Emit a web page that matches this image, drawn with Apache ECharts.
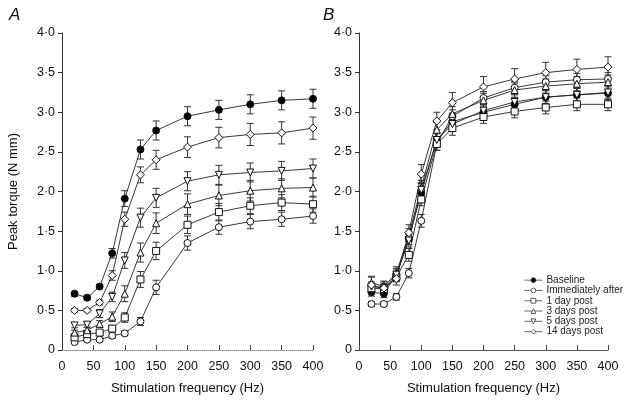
<!DOCTYPE html>
<html>
<head>
<meta charset="utf-8">
<script src="https://cdn.jsdelivr.net/npm/echarts@6/dist/echarts.min.js"></script>
<style>
html,body{margin:0;padding:0;background:#fff;}
#c{width:626px;height:400px;}
</style>
</head>
<body>
<div id="c"></div>
<script>
// Stimulation frequencies (Hz)
const freqs = [20, 40, 60, 80, 100, 125, 150, 200, 250, 300, 350, 400];
const seriesNames = ['Baseline', 'Immediately after', '1 day post', '3 days post', '5 days post', '14 days post'];
const yTicks = [0, 0.5, 1, 1.5, 2, 2.5, 3, 3.5, 4];

// Panel A: mean peak torque (N mm)
const aBaseline  = [0.71, 0.66, 0.80, 1.22, 1.91, 2.53, 2.77, 2.95, 3.03, 3.10, 3.15, 3.17];
const aImmediate = [0.10, 0.13, 0.13, 0.18, 0.21, 0.36, 0.79, 1.35, 1.55, 1.62, 1.65, 1.69];
const aDay1      = [0.16, 0.20, 0.22, 0.27, 0.41, 0.89, 1.25, 1.58, 1.74, 1.82, 1.86, 1.84];
const aDay3      = [0.22, 0.25, 0.33, 0.42, 0.71, 1.23, 1.60, 1.84, 1.95, 2.01, 2.04, 2.05];
const aDay5      = [0.31, 0.32, 0.46, 0.67, 1.13, 1.67, 1.92, 2.13, 2.21, 2.24, 2.26, 2.29];
const aDay14     = [0.50, 0.50, 0.60, 0.94, 1.65, 2.21, 2.40, 2.56, 2.68, 2.72, 2.74, 2.80];
// Panel A: error (SEM)
const aBaselineErr  = [0.03, 0.03, 0.03, 0.06, 0.10, 0.12, 0.12, 0.12, 0.12, 0.12, 0.12, 0.12];
const aImmediateErr = [0.02, 0.02, 0.02, 0.03, 0.03, 0.05, 0.09, 0.09, 0.09, 0.09, 0.09, 0.09];
const aDay1Err      = [0.03, 0.03, 0.03, 0.04, 0.06, 0.10, 0.11, 0.11, 0.11, 0.10, 0.10, 0.10];
const aDay3Err      = [0.03, 0.03, 0.04, 0.06, 0.10, 0.12, 0.13, 0.13, 0.13, 0.13, 0.12, 0.12];
const aDay5Err      = [0.03, 0.03, 0.05, 0.06, 0.10, 0.12, 0.12, 0.12, 0.12, 0.12, 0.12, 0.12];
const aDay14Err     = [0.02, 0.02, 0.03, 0.06, 0.09, 0.10, 0.12, 0.13, 0.13, 0.14, 0.14, 0.14];

// Panel B: mean peak torque (N mm)
const bBaseline  = [0.73, 0.71, 0.95, 1.41, 1.98, 2.65, 2.88, 3.00, 3.10, 3.19, 3.22, 3.24];
const bImmediate = [0.58, 0.58, 0.67, 0.97, 1.63, 2.60, 2.95, 3.18, 3.31, 3.38, 3.41, 3.42];
const bDay1      = [0.78, 0.77, 0.92, 1.20, 1.90, 2.60, 2.80, 2.94, 3.01, 3.06, 3.10, 3.10];
const bDay3      = [0.85, 0.80, 0.97, 1.45, 2.05, 2.78, 2.98, 3.15, 3.28, 3.33, 3.36, 3.38];
const bDay5      = [0.80, 0.78, 0.95, 1.38, 2.02, 2.65, 2.85, 3.02, 3.13, 3.19, 3.22, 3.25];
const bDay14     = [0.82, 0.78, 0.90, 1.48, 2.22, 2.89, 3.12, 3.32, 3.42, 3.50, 3.54, 3.57];
// Panel B: error (SEM)
const bBaselineErr  = [0.05, 0.05, 0.06, 0.08, 0.08, 0.08, 0.08, 0.08, 0.08, 0.08, 0.08, 0.08];
const bImmediateErr = [0.03, 0.03, 0.04, 0.06, 0.08, 0.08, 0.08, 0.08, 0.08, 0.08, 0.08, 0.08];
const bDay1Err      = [0.05, 0.05, 0.06, 0.08, 0.08, 0.08, 0.09, 0.08, 0.08, 0.08, 0.08, 0.08];
const bDay3Err      = [0.08, 0.07, 0.08, 0.08, 0.09, 0.09, 0.09, 0.09, 0.09, 0.09, 0.09, 0.09];
const bDay5Err      = [0.06, 0.06, 0.08, 0.08, 0.09, 0.09, 0.09, 0.09, 0.09, 0.09, 0.09, 0.09];
const bDay14Err     = [0.10, 0.08, 0.08, 0.10, 0.12, 0.11, 0.13, 0.13, 0.13, 0.13, 0.13, 0.13];

const panelA = [aBaseline, aImmediate, aDay1, aDay3, aDay5, aDay14];
const panelAErr = [aBaselineErr, aImmediateErr, aDay1Err, aDay3Err, aDay5Err, aDay14Err];
const panelB = [bBaseline, bImmediate, bDay1, bDay3, bDay5, bDay14];
const panelBErr = [bBaselineErr, bImmediateErr, bDay1Err, bDay3Err, bDay5Err, bDay14Err];

const symbols = [
  {symbol: 'circle', fill: '#000', size: 7, rot: 0},
  {symbol: 'circle', fill: '#fff', size: 7, rot: 0},
  {symbol: 'rect', fill: '#fff', size: 7, rot: 0},
  {symbol: 'triangle', fill: '#fff', size: 7, rot: 0},
  {symbol: 'triangle', fill: '#fff', size: 7, rot: 180},
  {symbol: 'diamond', fill: '#fff', size: 8, rot: 0}
];

const font = '"Liberation Sans", Arial, Helvetica, sans-serif';
const fmtY = v => v === 0 ? '0' : v.toFixed(1).replace('.', '\u00B7');

function errSeries(name, vals, errs, idx) {
  return {
    type: 'custom',
    name: name + ' (SEM)',
    xAxisIndex: idx, yAxisIndex: idx,
    silent: true,
    z: 1,
    data: freqs.map((f, i) => [f, vals[i] - errs[i], vals[i] + errs[i]]),
    renderItem: function (params, api) {
      const lo = api.coord([api.value(0), api.value(1)]);
      const hi = api.coord([api.value(0), api.value(2)]);
      const w = 3.5;
      const st = {stroke: '#333', lineWidth: 1, fill: null};
      return {
        type: 'group',
        children: [
          {type: 'line', shape: {x1: lo[0], y1: lo[1], x2: hi[0], y2: hi[1]}, style: st},
          {type: 'line', shape: {x1: lo[0] - w, y1: lo[1], x2: lo[0] + w, y2: lo[1]}, style: st},
          {type: 'line', shape: {x1: hi[0] - w, y1: hi[1], x2: hi[0] + w, y2: hi[1]}, style: st}
        ]
      };
    }
  };
}

function lineSeries(name, vals, idx, k) {
  const s = symbols[k];
  return {
    type: 'line',
    name: name,
    xAxisIndex: idx, yAxisIndex: idx,
    data: freqs.map((f, i) => [f, vals[i]]),
    symbol: s.symbol,
    symbolSize: s.size,
    symbolRotate: s.rot,
    showAllSymbol: true,
    z: 3,
    lineStyle: {color: '#222', width: 0.9},
    itemStyle: {color: s.fill, borderColor: '#111', borderWidth: 1},
    emphasis: {disabled: true},
    animation: false
  };
}

const series = [];
[panelA, panelB].forEach((panel, idx) => {
  const errs = idx === 0 ? panelAErr : panelBErr;
  panel.forEach((vals, k) => {
    series.push(lineSeries(seriesNames[k], vals, idx, k));
  });
  panel.forEach((vals, k) => {
    series.push(errSeries(seriesNames[k], vals, errs[k], idx));
  });
});

function xAxis(idx, dotted) {
  return {
    type: 'value', gridIndex: idx, min: 0, max: 400, interval: 50,
    name: 'Stimulation frequency (Hz)', nameLocation: 'middle', nameGap: 32,
    nameTextStyle: {fontFamily: font, fontSize: 13, color: '#111'},
    axisLine: {show: true, lineStyle: {color: dotted ? '#888' : '#555', width: 1, type: dotted ? 'dotted' : 'solid'}},
    axisTick: {show: true, inside: true, length: 5, lineStyle: {color: '#444'}},
    axisLabel: {fontFamily: font, fontSize: 12.5, color: '#111', margin: 10},
    splitLine: {show: false}
  };
}
function yAxis(idx, withName) {
  return {
    type: 'value', gridIndex: idx, min: 0, max: 4, interval: 0.5,
    name: withName ? 'Peak torque (N mm)' : '', nameLocation: 'middle', nameGap: 42,
    nameTextStyle: {fontFamily: font, fontSize: 13, color: '#111'},
    axisLine: {show: true, lineStyle: {color: '#333', width: 1}},
    axisTick: {show: true, inside: false, length: 4, lineStyle: {color: '#333'}},
    axisLabel: {fontFamily: font, fontSize: 12.5, color: '#111', margin: 7, formatter: fmtY,
                customValues: yTicks},
    splitLine: {show: false}
  };
}

const chart = echarts.init(document.getElementById('c'), null, {renderer: 'canvas'});
chart.setOption({
  backgroundColor: '#fff',
  animation: false,
  title: [
    {text: 'A', left: 4, top: 2, textStyle: {fontFamily: font, fontSize: 17, fontStyle: 'italic', fontWeight: 'normal', color: '#111'}},
    {text: 'B', left: 318, top: 2, textStyle: {fontFamily: font, fontSize: 17, fontStyle: 'italic', fontWeight: 'normal', color: '#111'}}
  ],
  grid: [
    {left: 62, top: 33, width: 251, height: 317},
    {left: 359, top: 33, width: 249, height: 317}
  ],
  xAxis: [xAxis(0, true), xAxis(1, false)],
  yAxis: [yAxis(0, true), yAxis(1, false)],
  legend: {
    orient: 'vertical', left: 524, top: 275,
    itemWidth: 18, itemHeight: 6, itemGap: 0,
    data: seriesNames,
    selectedMode: false,
    lineStyle: {width: 0.8, color: '#444'},
    itemStyle: {borderWidth: 0.8, borderColor: '#333'},
    textStyle: {fontFamily: font, fontSize: 10, lineHeight: 10.3, height: 10.3, color: '#222', padding: [0, 0, 0, -1]},
    padding: 0
  },
  series: series
});
</script>
</body>
</html>
